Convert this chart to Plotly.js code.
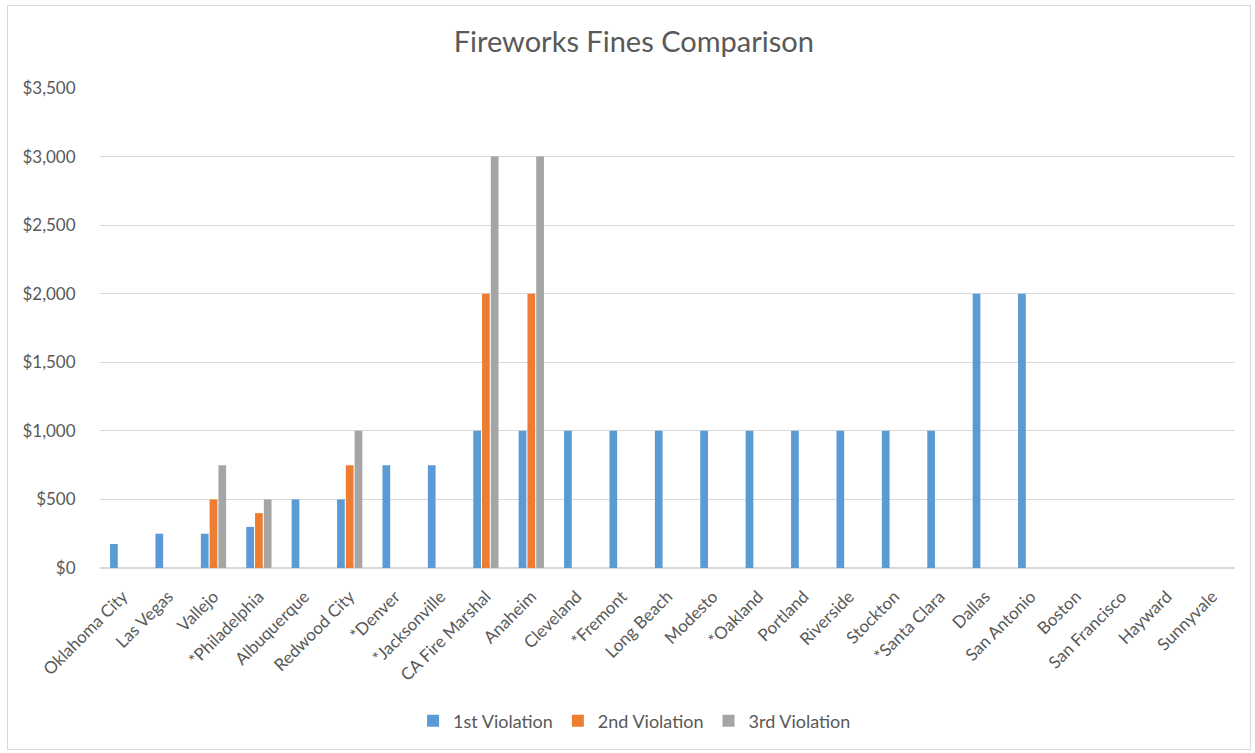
<!DOCTYPE html>
<html>
<head>
<meta charset="utf-8">
<script src="https://cdn.plot.ly/plotly-3.0.1.min.js"></script>
<style>
html,body{margin:0;padding:0;background:#fff;}
#frame{position:absolute;left:7px;top:5px;width:1244px;height:745px;border:1px solid #d9d9d9;box-sizing:border-box;}
#chart{position:absolute;left:0;top:0;width:1255px;height:753px;}
</style>
</head>
<body>
<div id="frame"></div>
<div id="chart"></div>
<script>
const cities = ["Oklahoma City","Las Vegas","Vallejo","*Philadelphia","Albuquerque","Redwood City","*Denver","*Jacksonville","CA Fire Marshal","Anaheim","Cleveland","*Fremont","Long Beach","Modesto","*Oakland","Portland","Riverside","Stockton","*Santa Clara","Dallas","San Antonio","Boston","San Francisco","Hayward","Sunnyvale"];
const firstViolation  = [175,250,250,300,500,500,750,750,1000,1000,1000,1000,1000,1000,1000,1000,1000,1000,1000,2000,2000,null,null,null,null];
const secondViolation = [null,null,500,400,null,750,null,null,2000,2000,null,null,null,null,null,null,null,null,null,null,null,null,null,null,null];
const thirdViolation  = [null,null,750,500,null,1000,null,null,3000,3000,null,null,null,null,null,null,null,null,null,null,null,null,null,null,null];
const seriesNames = ["1st Violation","2nd Violation","3rd Violation"];
const seriesColors = ["#5b9bd5","#ed7d31","#a5a5a5"];
const yTicks = [0,500,1000,1500,2000,2500,3000,3500];
const yTickLabels = ["$0","$500","$1,000","$1,500","$2,000","$2,500","$3,000","$3,500"];

const font = "Lato, 'Open Sans', sans-serif";
const seriesData = [firstViolation, secondViolation, thirdViolation];
const traces = seriesData.map((vals,i)=>({
  type:"bar", x:cities, y:vals, name:seriesNames[i],
  marker:{color:seriesColors[i]}, hoverinfo:"x+y+name"
}));

const layout = {
  width:1255, height:753,
  paper_bgcolor:"rgba(0,0,0,0)", plot_bgcolor:"rgba(0,0,0,0)",
  margin:{l:100,r:20,t:88,b:185},
  title:{text:"Fireworks Fines Comparison", x:0.505, xanchor:"center", y:0.944, yanchor:"middle",
    font:{family:font, size:29, color:"#595959"}},
  barmode:"group", bargap:0.42, bargroupgap:0.12,
  xaxis:{type:"category", tickangle:-45, tickfont:{family:font,size:17,color:"#595959"},
    showgrid:false, showline:false, ticks:"outside", ticklen:11, tickcolor:"rgba(0,0,0,0)", automargin:false},
  yaxis:{range:[0,3500], tickmode:"array", tickvals:yTicks, ticktext:yTickLabels,
    tickfont:{family:font,size:17,color:"#595959"}, gridcolor:"#d9d9d9", gridwidth:1,
    zeroline:true, zerolinecolor:"#d9d9d9", zerolinewidth:1.5, showline:false, ticks:"outside", ticklen:20, tickcolor:"rgba(0,0,0,0)", automargin:false},
  legend:{orientation:"h", x:0.471, xanchor:"center", y:-0.319, yanchor:"middle",
    font:{family:font,size:18,color:"#595959"}, itemwidth:30, tracegroupgap:0},
  showlegend:true
};
Plotly.newPlot("chart", traces, layout, {displayModeBar:false, staticPlot:true});
</script>
</body>
</html>
